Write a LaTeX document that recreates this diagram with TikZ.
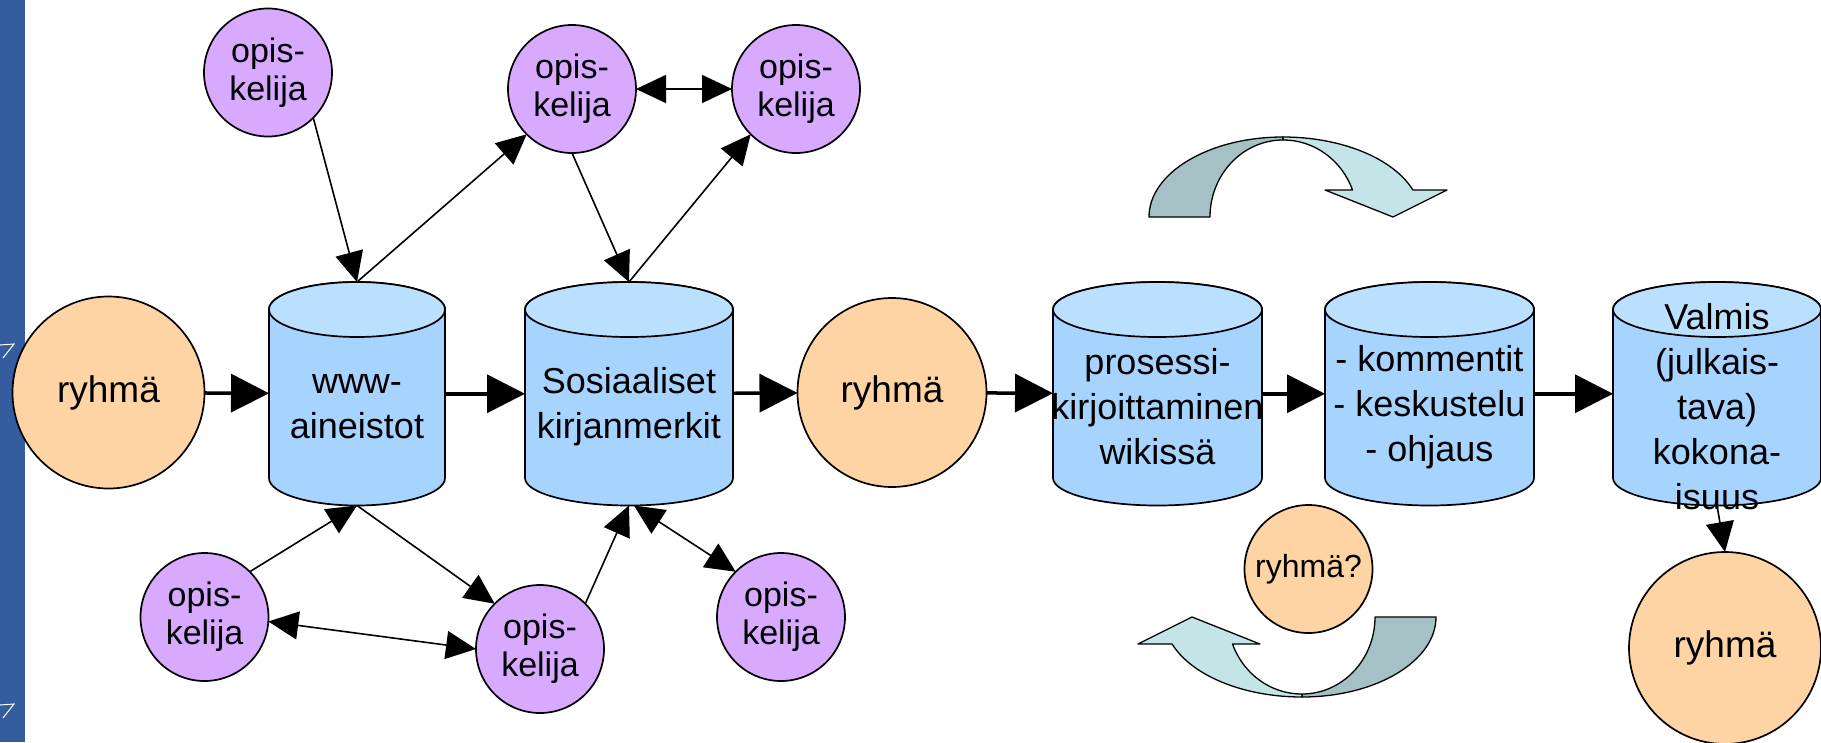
\documentclass[tikz,border=0pt]{standalone}
\usepackage{fontspec}
\setmainfont{Liberation Sans}
\usetikzlibrary{arrows.meta,backgrounds}

\definecolor{opisvari}{RGB}{215,170,255}
\definecolor{ryhmavari}{RGB}{255,212,165}
\definecolor{kantasivu}{RGB}{167,212,255}
\definecolor{kantakansi}{RGB}{187,223,255}
\definecolor{kaaritumma}{RGB}{166,193,197}
\definecolor{kaarivaalea}{RGB}{196,229,232}
\definecolor{palkki}{RGB}{52,93,160}

\tikzset{
    kaari/.pic={
        \filldraw[fill=kaaritumma, line width=1.3pt, line join=round]
            (-134,0) arc[start angle=180, end angle=90, x radius=134, y radius=80]
            -- (0,77) arc[start angle=90, end angle=180, x radius=73, y radius=77] -- cycle;
        \filldraw[fill=kaarivaalea, line width=1.3pt, line join=round]
            (0,80) arc[start angle=90, end angle=19.7, x radius=138, y radius=80]
            -- (164,27) -- (110,0) -- (42,27) -- (69.5,27)
            arc[start angle=20.5, end angle=90, x radius=74, y radius=77] -- cycle;
    }
}

\begin{document}
\begin{tikzpicture}
            [
                x=1pt, y=1pt,
                every node/.style = {align=center, inner sep=0pt, outer sep=0pt},
                opiskelija/.style = {circle, draw, line width=1.7pt, fill=opisvari,
                    minimum size=128, font=\fontsize{34}{38}\selectfont},
                ryhma/.style = {circle, draw, line width=1.7pt, fill=ryhmavari,
                    minimum size=192, font=\fontsize{37}{43}\selectfont},
                kanta/.style = {rectangle, minimum height=223.5,
                    label={[kantateksti]center:{#1}}},
                kantateksti/.style = {anchor=center, yshift=-13pt, align=center,
                    font=\fontsize{36}{45}\selectfont},
                kantareuna/.style = {draw, line width=1.7pt},
                ohut/.style = {line width=1.6pt, >={Triangle[length=30pt, width=28pt]}},
                paksu/.style = {line width=3.5pt, -{Triangle[length=38pt, width=38pt]}}
            ]
            \useasboundingbox (0,0) rectangle (1821,-742);
            \fill[palkki] (0,0) rectangle (25,-742);
            \draw[white, line width=1pt] (0,-345) -- (14,-344) -- (3,-358);
            \draw[white, line width=1pt] (0,-705) -- (14,-704) -- (3,-718);

            \node[ryhma] (ryhmaL) at (108.5,-392.5) {ryhmä};
            \node[ryhma, minimum size=189] (ryhmaK) at (892,-392.5) {ryhmä};
            \node[ryhma] (ryhmaO) at (1725,-648) {ryhmä};
            \node[ryhma, minimum size=128, font=\fontsize{32}{38}\selectfont]
                (ryhmaQ) at (1308.5,-569) {ryhmä?};

            \node[opiskelija] (opis1) at (268,-72.5) {opis-\\kelija};
            \node[opiskelija] (opis2) at (572,-89) {opis-\\kelija};
            \node[opiskelija] (opis3) at (796,-89) {opis-\\kelija};
            \node[opiskelija] (opis4) at (204.5,-617) {opis-\\kelija};
            \node[opiskelija] (opis5) at (540,-649) {opis-\\kelija};
            \node[opiskelija] (opis6) at (781,-617) {opis-\\kelija};

            \node[kanta={www-\\aineistot}, minimum width=176] (www) at (357,-393.75) {};
            \node[kanta={Sosiaaliset\\kirjanmerkit}, minimum width=208] (kirjm) at (629,-393.75) {};
            \node[kanta={prosessi-\\kirjoittaminen\\wikissä}, minimum width=209] (wiki) at (1157.5,-393.75) {};
            \node[kanta={- kommentit\\- keskustelu\\- ohjaus}, minimum width=209] (komm) at (1429.5,-393.75) {};
            \node[kanta={Valmis\\(julkais-\\tava)\\kokona-\\isuus}, minimum width=208] (valmis) at (1717,-393.75) {};

            \begin{scope}[on background layer]
                \foreach \n/\r in {www/88, kirjm/104, wiki/104.5, komm/104.5, valmis/104}
                {
                    \filldraw[kantareuna, fill=kantasivu]
                        ([yshift=-27.5pt]\n.north west)
                        arc[start angle=180, end angle=0, x radius=\r, y radius=27.5]
                        -- ([yshift=27.5pt]\n.south east)
                        arc[start angle=0, end angle=-180, x radius=\r, y radius=27.5]
                        -- cycle;
                    \filldraw[kantareuna, fill=kantakansi]
                        ([yshift=-27.5pt]\n.north) ellipse[x radius=\r, y radius=27.5];
                }
            \end{scope}

            \pic at (1283,-217) {kaari};
            \pic[rotate=180] at (1302,-617) {kaari};

            \draw[paksu] (ryhmaL) -- (www);
            \draw[paksu] (www) -- (kirjm);
            \draw[paksu] (kirjm) -- (ryhmaK);
            \draw[paksu] (ryhmaK) -- (wiki);
            \draw[paksu] (wiki) -- (komm);
            \draw[paksu] (komm) -- (valmis);

            \draw[ohut, ->] (opis1.-45) -- (www.north);
            \draw[ohut, ->] (www.north) -- (opis2.-135);
            \draw[ohut, <->] (opis2) -- (opis3);
            \draw[ohut, ->] (opis2.south) -- (kirjm.north);
            \draw[ohut, ->] (kirjm.north) -- (opis3.-135);
            \draw[ohut, ->] (opis4.45) -- (www.south);
            \draw[ohut, ->] (www.south) -- (opis5.135);
            \draw[ohut, <->] (opis4.-4) -- (opis5.west);
            \draw[ohut, ->] (opis5.45) -- (kirjm.south);
            \draw[ohut, <->] (opis6.135) -- ([xshift=5pt]kirjm.south);
            \draw[ohut, ->] (valmis.south) -- (ryhmaO.north);
        \end{tikzpicture}
\end{document}
